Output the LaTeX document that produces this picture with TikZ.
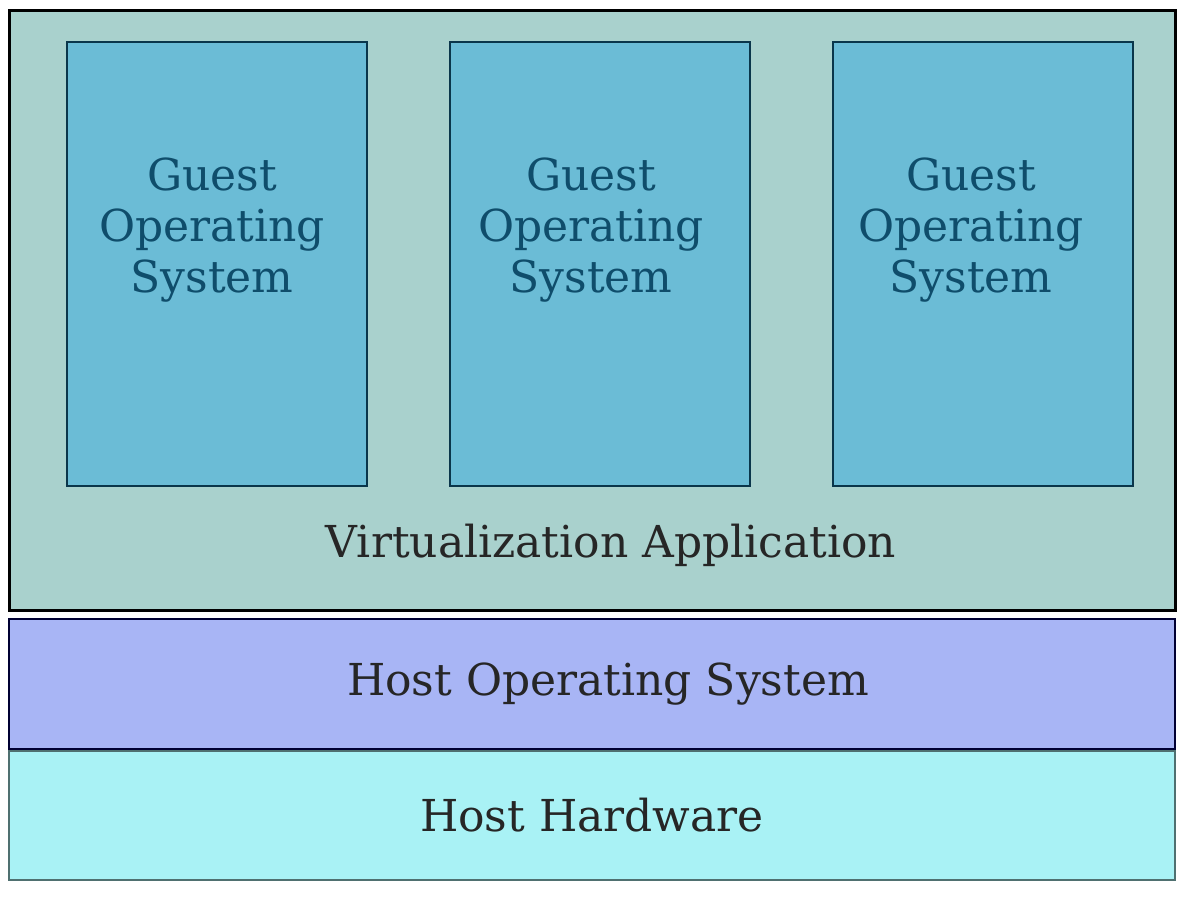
\documentclass[tikz,border=0pt]{standalone}
\usepackage{fontspec}
\setmainfont{DejaVu Serif}
\usepackage{tikz}

\definecolor{appfill}{HTML}{A9D1CD}
\definecolor{guestfill}{HTML}{6BBCD6}
\definecolor{guesttext}{HTML}{0F4D6B}
\definecolor{hostosfill}{HTML}{A8B5F5}
\definecolor{hwfill}{HTML}{A9F2F5}
\definecolor{hwdraw}{HTML}{4F7070}

\begin{document}
\begin{tikzpicture}[x=1pt,y=-1pt,node distance=383pt,
    layer/.style={draw,inner sep=0pt,minimum width=1166pt,line width=1.5pt,text=black!85,font=\fontsize{44}{48}\selectfont},
    guest box/.style={draw=guesttext!70!black,fill=guestfill,line width=1.5pt,inner sep=0pt,minimum width=300pt,minimum height=444pt},
    guest label/.style={align=center,text=guesttext,font=\fontsize{44}{51}\selectfont}]
    \useasboundingbox (0,0) rectangle (1189,903);

    \node[layer,fill=appfill,line width=3pt,minimum height=600pt] (app) at (592,310) {};
    \node[text=black!85,font=\fontsize{44}{48}\selectfont] (applabel) at (611,545) {Virtualization Application};

    \node[guest box] (1) at (217,264) {};
    \node[guest box] (2) [right of = 1]{};
    \node[guest box] (3) [right of = 2]{};

    \node[guest label] (g1) at (212,230) {Guest\\Operating\\System};
    \node[guest label] (g2) [right of = g1, xshift = -4]{Guest\\Operating\\System};
    \node[guest label] (g3) [right of = g2, xshift = -3]{Guest\\Operating\\System};

    \node[layer,fill=hostosfill,draw=black!80!blue,minimum height=130pt] (hostos) at (592,684) {\hspace*{32pt}\raisebox{5pt}{Host Operating System}};
    \node[layer,fill=hwfill,draw=hwdraw,minimum height=129pt] (hw) at (592,815.5) {\raisebox{-3pt}{Host Hardware}};
\end{tikzpicture}
\end{document}
